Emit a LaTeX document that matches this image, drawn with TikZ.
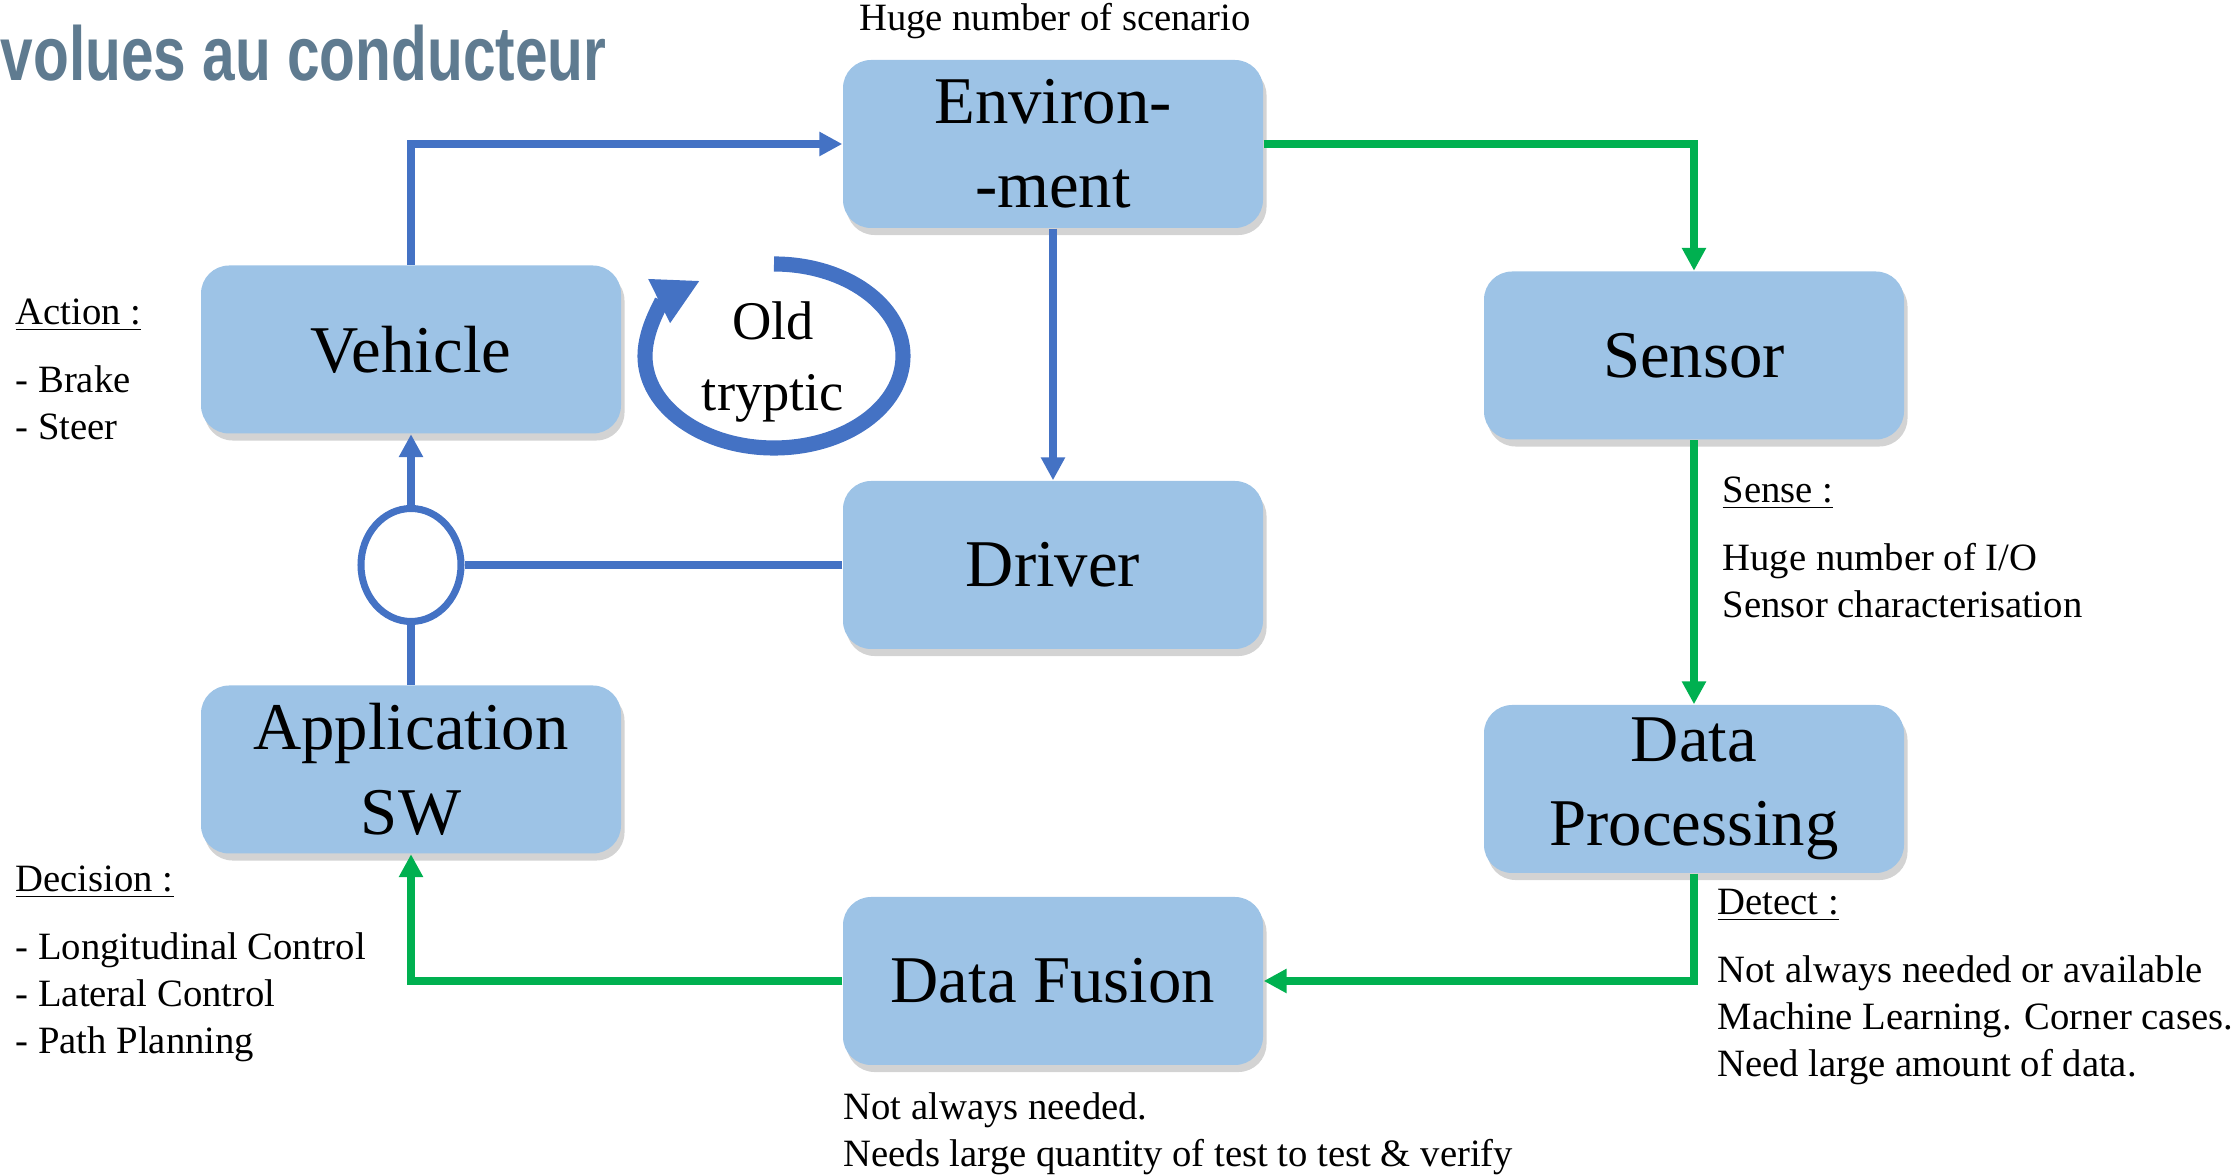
\documentclass[tikz,border=0pt]{standalone}
\usepackage{fontspec}
\setmainfont{Liberation Serif}
\newfontfamily\titlefont{Liberation Sans}
\usetikzlibrary{arrows.meta,shapes.geometric,shadows}
\definecolor{boxblue}{HTML}{9DC3E6}
\definecolor{lineblue}{HTML}{4472C4}
\definecolor{linegreen}{HTML}{00B050}
\definecolor{titlegray}{HTML}{5F7B90}

\begin{document}
\begin{tikzpicture}
	\tikzstyle{block}=[fill=boxblue, rounded corners=8pt, minimum width=4.2cm, minimum height=1.68cm, inner sep=0pt, align=center, font=\fontsize{19}{24}\selectfont, drop shadow={shadow xshift=1pt, shadow yshift=-2pt, opacity=0.35}]
	\tikzstyle{note}=[align=left, anchor=north west, inner sep=0pt, font=\fontsize{11}{13.4}\selectfont]
	\tikzstyle{blue line}=[draw=lineblue, line width=2pt]
	\tikzstyle{blue flow}=[blue line, -{Triangle[length=6.5pt,width=6.5pt]}]
	\tikzstyle{green flow}=[draw=linegreen, line width=2pt, -{Triangle[length=6.5pt,width=6.5pt]}]
	\useasboundingbox (0,0) rectangle (22.33,-11.76);

	\node (title) at (0,-0.81) [anchor=base west, inner sep=0pt, text=titlegray, font=\titlefont\bfseries\fontsize{21.8}{26}\selectfont] {\scalebox{0.765}[1]{volues au conducteur}};

	\node (env) at (10.53,-1.44) [block] {Environ-\\-ment};
	\node (veh) at (4.11,-3.495) [block] {Vehicle};
	\node (sen) at (16.94,-3.555) [block] {Sensor};
	\node (drv) at (10.53,-5.65) [block] {Driver};
	\node (app) at (4.11,-7.695) [block] {Application\\SW};
	\node (dp) at (16.94,-7.89) [block] {Data\\Processing};
	\node (df) at (10.53,-9.81) [block] {Data Fusion};
	\node (sum) at (4.11,-5.65) [ellipse, draw=lineblue, line width=2pt, minimum width=1.0cm, minimum height=1.13cm, inner sep=0pt] {};

	\draw [blue flow] (veh) |- (env);
	\draw [green flow] (env) -| (sen);
	\draw [blue flow] (env) -- (drv);
	\draw [green flow] (sen) -- (dp);
	\draw [green flow] (dp) |- (df);
	\draw [green flow] (df) -| (app);
	\draw [blue line] (app) -- (sum);
	\draw [blue flow] (sum) -- (veh);
	\draw [blue line] (drv) -- (sum);

	\draw [lineblue, line width=4.3pt, -{Triangle[length=13pt,width=13pt]}] (7.74,-2.64) arc [start angle=90, end angle=-235, x radius=1.29, y radius=0.92];
	\node (old) at (7.73,-3.62) [align=center, font=\fontsize{15.5}{20}\selectfont] {Old\\tryptic};

	\node (scen) at (10.55,-0.31) [anchor=base, inner sep=0pt, font=\fontsize{11}{13.4}\selectfont] {Huge number of scenario};
	\node (action) at (0.15,-2.98) [note] {\underline{Action :}\\[6pt]- Brake\\- Steer};
	\node (sense) at (17.22,-4.76) [note] {\underline{Sense :}\\[6pt]Huge number of I/O\\Sensor characterisation};
	\node (detect) at (17.17,-8.88) [note] {\underline{Detect :}\\[6pt]Not always needed or available\\Machine Learning. Corner cases.\\Need large amount of data.};
	\node (decision) at (0.15,-8.65) [note] {\underline{Decision :}\\[6pt]- Longitudinal Control\\- Lateral Control\\- Path Planning};
	\node (fusion note) at (8.43,-10.92) [note] {Not always needed.\\Needs large quantity of test to test \& verify};
\end{tikzpicture}
\end{document}
